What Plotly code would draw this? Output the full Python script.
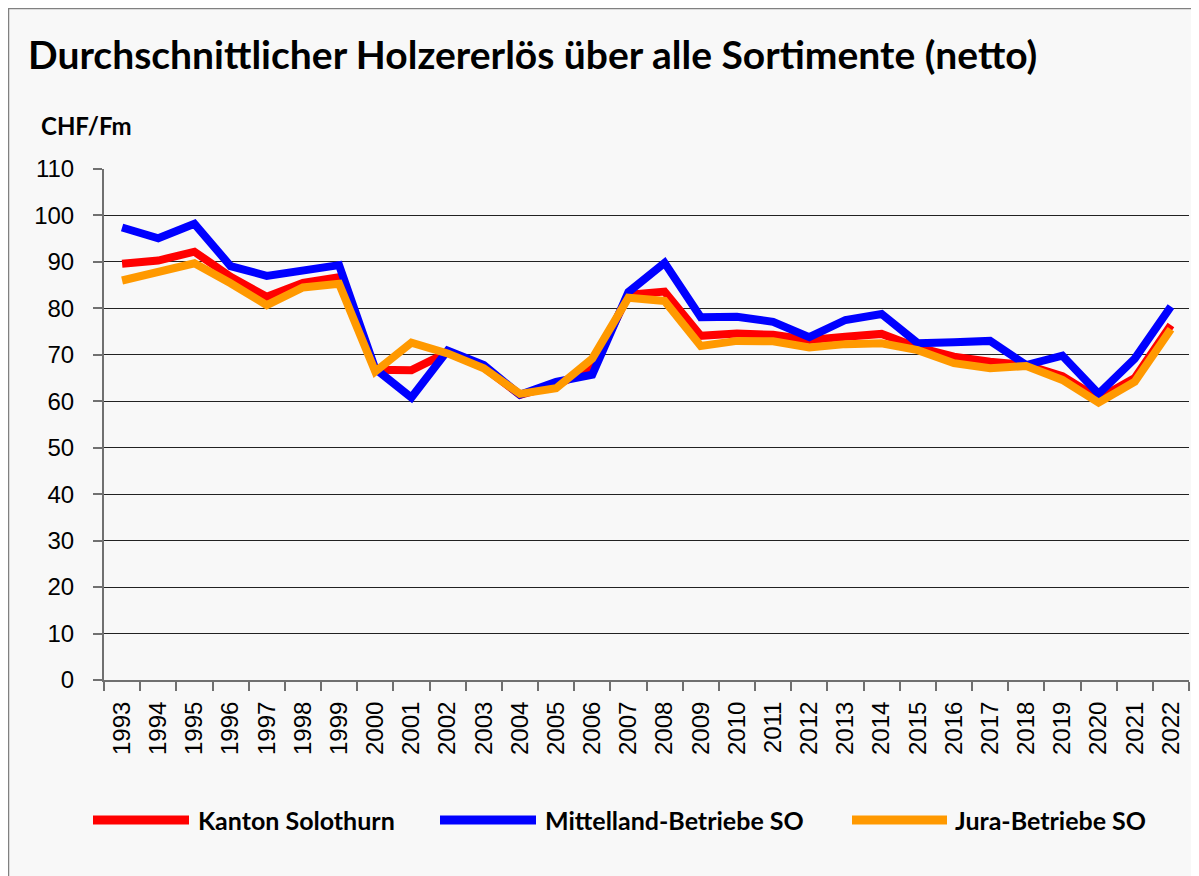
import plotly.graph_objects as go

years = [str(y) for y in range(1993, 2023)]

kanton = [89.6, 90.3, 92.2, 86.8, 82.5, 85.5, 86.7, 66.8, 66.7, 70.5, 67.3, 61.4, 63.5, 67.1, 82.9, 83.6,
          74.1, 74.6, 74.3, 73.2, 73.9, 74.5, 71.6, 69.6, 68.5, 67.8, 65.4, 60.6, 65.0, 76.4]
mittelland = [97.4, 95.1, 98.2, 89.1, 87.0, 88.3, 89.3, 67.0, 60.8, 70.9, 67.8, 61.4, 64.2, 65.7, 83.5, 89.8,
              78.1, 78.2, 77.1, 73.8, 77.5, 78.8, 72.5, 72.7, 73.0, 67.8, 69.8, 61.6, 69.2, 80.4]
jura = [86.0, 87.9, 89.7, 85.4, 80.7, 84.5, 85.3, 66.4, 72.6, 70.3, 67.1, 61.6, 62.8, 69.2, 82.3, 81.6,
        71.9, 73.0, 72.9, 71.6, 72.3, 72.5, 71.0, 68.2, 67.1, 67.6, 64.6, 59.7, 64.2, 75.5]

names = ["Kanton Solothurn", "Mittelland-Betriebe SO", "Jura-Betriebe SO"]
colors = ["#ff0000", "#0000ff", "#ff9900"]
values = [kanton, mittelland, jura]

BOLD_FONT = "Lato, 'Open Sans', sans-serif"
TICK_FONT = "'Liberation Sans', Arial, sans-serif"

# the page places the figure 8px from the top-left corner (body margin)
OFF = 8
SW, SH = 1199, 876                 # screen size
W, H = SW - OFF, SH - OFF          # figure size
# plot area in screen pixels
SX0, SX1, SY0, SY1 = 104, 1189, 169, 680
L, R, T, B = SX0 - OFF, SW - SX1, SY0 - OFF, SH - SY1
PW, PH = SX1 - SX0, SY1 - SY0


def px(x):
    return (x - SX0) / PW


def py(y):
    return (SY1 - y) / PH


fig = go.Figure()
for name, vals, col in zip(names, values, colors):
    fig.add_trace(go.Scatter(x=years, y=vals, mode="lines", name=name, showlegend=False,
                             line=dict(color=col, width=8)))

# manual legend (long line samples like the original)
legend_x = [(93, 189, 196), (440, 536, 543), (852, 947, 953)]
legend_y = 820
shapes = [dict(type="rect", xref="paper", yref="paper",
               x0=px(OFF + 0.5), x1=px(1215), y0=py(890), y1=py(OFF + 0.5),
               line=dict(color="#808080", width=1.5), fillcolor="rgba(0,0,0,0)", layer="below")]
annotations = [dict(text="<b>CHF/Fm</b>", xref="paper", yref="paper",
                    x=px(39), y=py(125), xanchor="left", yanchor="middle",
                    showarrow=False, font=dict(family=BOLD_FONT, size=24, color="black"))]
for (x0, x1, xt), name, col in zip(legend_x, names, colors):
    shapes.append(dict(type="line", xref="paper", yref="paper",
                       x0=px(x0), x1=px(x1), y0=py(legend_y), y1=py(legend_y),
                       line=dict(color=col, width=9)))
    annotations.append(dict(text="<b>%s</b>" % name, xref="paper", yref="paper",
                            x=px(xt), y=py(legend_y), xanchor="left", yanchor="middle",
                            showarrow=False, font=dict(family=BOLD_FONT, size=25, color="black")))

bg = "#f8f8f8"
fig.update_layout(
    width=W, height=H,
    paper_bgcolor=bg, plot_bgcolor=bg,
    margin=dict(l=L, r=R, t=T, b=B, autoexpand=False),
    font=dict(family=TICK_FONT, color="black", size=24),
    title=dict(text="<b>Durchschnittlicher Holzererlös über alle Sortimente (netto)</b>",
               x=(28 - OFF) / W, xanchor="left", y=1 - (55 - OFF) / H, yanchor="middle",
               font=dict(family=BOLD_FONT, size=39, color="black")),
    showlegend=False,
    annotations=annotations,
    shapes=shapes,
)

fig.update_xaxes(type="category", range=[-0.5, len(years) - 0.5], tickangle=-90,
                 tickson="boundaries", ticks="outside",
                 ticklen=9, tickcolor="#707070", tickwidth=1.5, showgrid=False, showline=True,
                 linecolor="#707070", linewidth=2, automargin=False, ticklabelstandoff=10,
                 tickfont=dict(size=24, family=TICK_FONT))
fig.update_yaxes(range=[0, 110], dtick=10, ticks="outside", ticklen=9, tickcolor="#707070",
                 tickwidth=1.5, showgrid=True, gridcolor="#222222", gridwidth=1, showline=True,
                 linecolor="#707070", linewidth=2, zeroline=False, automargin=False,
                 ticklabelstandoff=14, tickfont=dict(size=24, family=TICK_FONT))

fig.write_html("out.html")
